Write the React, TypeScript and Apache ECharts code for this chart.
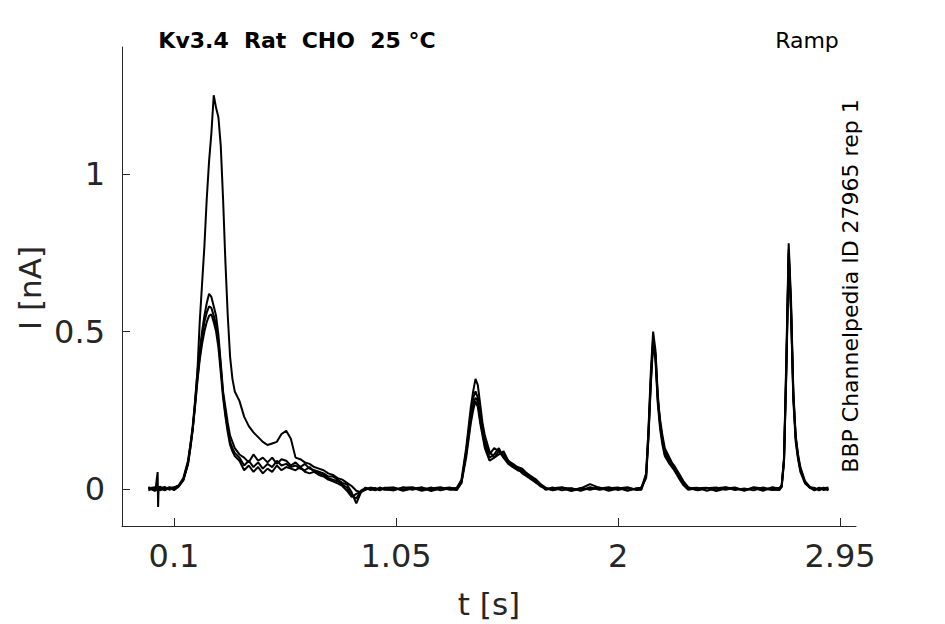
import React, { useEffect, useRef } from "react";
import * as echarts from "echarts";

// time samples (s), shared by all sweeps
const times: number[] = [
  -0.01, 0.02, 0.03, 0.032, 0.034, 0.04, 0.06, 0.08, 0.10, 0.12, 0.14, 0.16,
  0.17, 0.18, 0.19, 0.20, 0.21, 0.22, 0.23, 0.24, 0.25, 0.26, 0.27, 0.28, 0.29, 0.30, 0.31, 0.32, 0.33, 0.34, 0.35, 0.36,
  0.38, 0.40, 0.42, 0.44, 0.46, 0.48, 0.50, 0.52, 0.54, 0.56, 0.58, 0.60, 0.62, 0.64, 0.66, 0.68, 0.70, 0.72, 0.74, 0.76, 0.78, 0.80, 0.82, 0.84, 0.86, 0.88, 0.90, 0.92, 0.94, 0.96, 0.98, 1.00,
  1.04, 1.08, 1.12, 1.16, 1.20, 1.24, 1.28,
  1.31, 1.33, 1.35, 1.37, 1.38, 1.39, 1.40, 1.41, 1.42, 1.43,
  1.45, 1.47, 1.49, 1.51, 1.53, 1.55, 1.57, 1.59, 1.61, 1.63, 1.65, 1.67, 1.69,
  1.72, 1.76, 1.80, 1.84, 1.88, 1.92, 1.96, 2.00, 2.04, 2.08,
  2.10, 2.12, 2.13, 2.14, 2.15, 2.16, 2.17, 2.18, 2.19, 2.20, 2.22, 2.24, 2.26, 2.28, 2.30,
  2.34, 2.38, 2.42, 2.46, 2.50, 2.54, 2.58, 2.62, 2.66,
  2.69, 2.70, 2.71, 2.72, 2.73, 2.74, 2.75, 2.76, 2.77, 2.78, 2.80, 2.82, 2.84, 2.86, 2.88, 2.90,
];

// current (nA), sweep 1 (tall first peak)
const sweep1: number[] = [
  0.004, -0.006, 0.054, -0.057, 0.002, 0.008, -0.004, 0.006, 0.003, 0.012, 0.035, 0.09,
  0.14, 0.19, 0.27, 0.37, 0.53, 0.65, 0.77, 0.92, 1.04, 1.13, 1.25, 1.21, 1.18, 1.09, 0.92, 0.72, 0.55, 0.42, 0.35, 0.31,
  0.28, 0.23, 0.20, 0.18, 0.165, 0.15, 0.14, 0.145, 0.15, 0.175, 0.185, 0.16, 0.10, 0.095, 0.085, 0.08, 0.07, 0.065, 0.06, 0.05, 0.045, 0.035, 0.03, 0.02, 0.01, -0.005, -0.01, 0.0, 0.004, -0.003, 0.005, 0.0,
  -0.004, 0.006, -0.002, 0.005, -0.006, 0.003, 0.001,
  0.004, 0.03, 0.13, 0.26, 0.31, 0.35, 0.33, 0.27, 0.21, 0.17,
  0.12, 0.10, 0.12, 0.11, 0.09, 0.08, 0.07, 0.065, 0.05, 0.04, 0.03, 0.015, 0.005,
  -0.004, 0.003, -0.006, 0.002, 0.016, 0.004, -0.003, 0.004, -0.005, 0.002,
  0.003, 0.05, 0.19, 0.37, 0.50, 0.44, 0.30, 0.21, 0.16, 0.12, 0.09, 0.075, 0.05, 0.025, 0.006,
  -0.003, 0.004, -0.006, 0.002, 0.005, -0.004, 0.003, -0.002, 0.004,
  0.002, 0.012, 0.10, 0.42, 0.78, 0.60, 0.31, 0.17, 0.11, 0.07, 0.025, 0.008, -0.004, 0.005, -0.003, 0.002,
];

const sweep2: number[] = [
  0.006, -0.003, 0.004, 0.002, -0.005, 0.003, 0.007, -0.002, 0.005, 0.01, 0.03, 0.085,
  0.14, 0.20, 0.28, 0.37, 0.44, 0.50, 0.55, 0.59, 0.62, 0.61, 0.58, 0.55, 0.49, 0.40, 0.31, 0.26, 0.21, 0.17, 0.15, 0.13,
  0.11, 0.10, 0.085, 0.11, 0.09, 0.10, 0.085, 0.10, 0.08, 0.095, 0.09, 0.075, 0.085, 0.07, 0.08, 0.065, 0.06, 0.055, 0.05, 0.04, 0.04, 0.03, 0.02, 0.015, -0.01, -0.045, -0.01, 0.005, -0.003, 0.004, -0.002, 0.003,
  0.005, -0.003, 0.004, -0.005, 0.002, 0.006, -0.002,
  -0.002, 0.02, 0.12, 0.24, 0.29, 0.31, 0.29, 0.24, 0.19, 0.15,
  0.11, 0.13, 0.12, 0.10, 0.085, 0.075, 0.065, 0.06, 0.045, 0.035, 0.025, 0.01, 0.0,
  0.005, -0.004, 0.003, -0.005, 0.004, 0.002, 0.006, -0.003, 0.004, -0.002,
  0.006, 0.04, 0.17, 0.34, 0.48, 0.42, 0.28, 0.22, 0.17, 0.13, 0.10, 0.07, 0.045, 0.02, 0.003,
  0.004, -0.005, 0.003, 0.006, -0.003, 0.002, -0.004, 0.005, -0.002,
  -0.003, 0.008, 0.09, 0.40, 0.76, 0.58, 0.30, 0.16, 0.10, 0.065, 0.02, 0.006, 0.003, -0.004, 0.005, -0.002,
];

const sweep3: number[] = [
  -0.004, 0.005, -0.002, 0.006, 0.003, -0.004, 0.002, 0.005, -0.003, 0.008, 0.028, 0.08,
  0.13, 0.19, 0.27, 0.35, 0.42, 0.48, 0.53, 0.56, 0.58, 0.575, 0.55, 0.52, 0.47, 0.39, 0.30, 0.24, 0.19, 0.15, 0.13, 0.115,
  0.10, 0.075, 0.09, 0.07, 0.085, 0.065, 0.08, 0.07, 0.09, 0.075, 0.08, 0.07, 0.075, 0.065, 0.06, 0.07, 0.055, 0.05, 0.045, 0.035, 0.03, 0.025, 0.015, 0.005, -0.02, -0.03, -0.005, 0.004, 0.0, -0.004, 0.003, -0.002,
  -0.002, 0.004, 0.006, -0.003, 0.005, -0.004, 0.003,
  0.003, 0.025, 0.11, 0.22, 0.27, 0.29, 0.28, 0.22, 0.18, 0.14,
  0.10, 0.11, 0.13, 0.10, 0.08, 0.07, 0.06, 0.055, 0.05, 0.035, 0.02, 0.012, -0.002,
  0.003, 0.006, -0.004, 0.004, -0.002, 0.005, -0.005, 0.002, 0.006, -0.003,
  -0.002, 0.045, 0.18, 0.35, 0.47, 0.43, 0.29, 0.20, 0.15, 0.11, 0.085, 0.065, 0.04, 0.015, 0.004,
  -0.004, 0.003, 0.005, -0.002, 0.004, -0.005, 0.006, 0.002, -0.003,
  0.004, 0.01, 0.095, 0.38, 0.75, 0.57, 0.29, 0.165, 0.105, 0.06, 0.022, 0.004, -0.003, 0.004, 0.002, -0.004,
];

const sweep4: number[] = [
  0.003, 0.006, -0.005, 0.002, 0.004, 0.006, -0.003, 0.003, 0.006, 0.01, 0.03, 0.08,
  0.13, 0.19, 0.26, 0.34, 0.41, 0.46, 0.50, 0.53, 0.55, 0.555, 0.53, 0.50, 0.45, 0.37, 0.29, 0.23, 0.18, 0.14, 0.12, 0.105,
  0.09, 0.06, 0.075, 0.055, 0.07, 0.05, 0.065, 0.055, 0.075, 0.06, 0.07, 0.065, 0.06, 0.07, 0.055, 0.05, 0.055, 0.045, 0.04, 0.03, 0.025, 0.018, 0.01, -0.005, -0.025, -0.015, -0.008, -0.002, 0.005, 0.002, -0.004, 0.004,
  0.004, -0.005, 0.002, 0.005, -0.003, 0.002, 0.005,
  -0.003, 0.02, 0.10, 0.21, 0.25, 0.28, 0.26, 0.21, 0.17, 0.13,
  0.09, 0.10, 0.11, 0.12, 0.09, 0.075, 0.065, 0.05, 0.04, 0.03, 0.02, 0.008, 0.003,
  -0.003, 0.004, 0.002, -0.004, 0.006, -0.002, 0.003, 0.005, -0.004, 0.003,
  0.004, 0.035, 0.16, 0.33, 0.46, 0.41, 0.27, 0.19, 0.14, 0.105, 0.08, 0.06, 0.035, 0.012, -0.002,
  0.003, 0.004, -0.004, 0.005, 0.002, -0.003, 0.004, -0.005, 0.006,
  0.001, 0.006, 0.085, 0.37, 0.74, 0.56, 0.28, 0.15, 0.095, 0.055, 0.018, 0.005, 0.004, -0.003, 0.003, 0.005,
];

const xTickValues: number[] = [0.1, 1.05, 2, 2.95];
const yTickValues: number[] = [0, 0.5, 1];

const titleText = "Kv3.4  Rat  CHO  25 °C";
const protocolText = "Ramp";
const sourceText = "BBP Channelpedia ID 27965 rep 1";
const xName = "t [s]";
const yName = "I [nA]";

function zip(ys: number[]): [number, number][] {
  const n = Math.min(times.length, ys.length);
  const out: [number, number][] = [];
  for (let i = 0; i < n; i++) out.push([times[i], ys[i]]);
  return out;
}

export default function App() {
  const ref = useRef<HTMLDivElement>(null);
  useEffect(() => {
    if (!ref.current) return;
    const chart = echarts.init(ref.current, undefined, { renderer: "svg" });
    const axisColor = "#262626";
    const font = "DejaVu Sans";
    const sweeps = [sweep1, sweep2, sweep3, sweep4];
    chart.setOption({
      animation: false,
      backgroundColor: "#ffffff",
      grid: { left: 122, right: 89, top: 47, bottom: 98 },
      xAxis: {
        type: "value",
        min: -0.1225,
        max: 3.018,
        axisLine: { show: true, onZero: false, lineStyle: { color: axisColor, width: 1 } },
        axisTick: { show: true, inside: true, length: 8, customValues: xTickValues, lineStyle: { color: axisColor } },
        axisLabel: {
          show: true,
          customValues: xTickValues,
          formatter: (v: number) => String(v),
          fontSize: 32,
          fontFamily: font,
          color: axisColor,
          margin: 14,
        },
        splitLine: { show: false },
      },
      yAxis: {
        type: "value",
        min: -0.117,
        max: 1.403,
        axisLine: { show: true, onZero: false, lineStyle: { color: axisColor, width: 1 } },
        axisTick: { show: true, inside: true, length: 8, customValues: yTickValues, lineStyle: { color: axisColor } },
        axisLabel: {
          show: true,
          customValues: yTickValues,
          formatter: (v: number) => String(v),
          fontSize: 32,
          fontFamily: font,
          color: axisColor,
          margin: 17,
        },
        splitLine: { show: false },
      },
      series: sweeps.map((s, i) => ({
        type: "line",
        name: "sweep " + (i + 1),
        data: zip(s),
        showSymbol: false,
        symbol: "none",
        lineStyle: { color: "#000000", width: 2 },
        silent: true,
      })),
      graphic: [
        {
          type: "text",
          x: 297,
          y: 40,
          style: { text: titleText, fontSize: 22, fontWeight: "bold", fontFamily: font, fill: "#000000", align: "center", verticalAlign: "middle" },
        },
        {
          type: "text",
          x: 807,
          y: 40,
          style: { text: protocolText, fontSize: 22, fontFamily: font, fill: "#000000", align: "center", verticalAlign: "middle" },
        },
        {
          type: "text",
          x: 850,
          y: 286,
          rotation: Math.PI / 2,
          style: { text: sourceText, fontSize: 22, fontFamily: font, fill: "#000000", align: "center", verticalAlign: "middle" },
        },
        {
          type: "text",
          x: 489,
          y: 604,
          style: { text: xName, fontSize: 31, fontFamily: font, fill: axisColor, align: "center", verticalAlign: "middle" },
        },
        {
          type: "text",
          x: 30,
          y: 288,
          rotation: Math.PI / 2,
          style: { text: yName, fontSize: 31, fontFamily: font, fill: axisColor, align: "center", verticalAlign: "middle" },
        },
      ],
    });
    return () => chart.dispose();
  }, []);
  return (
    <div
      ref={ref}
      style={{ position: "absolute", left: 0, top: 0, width: 945, height: 624 }}
    />
  );
}
